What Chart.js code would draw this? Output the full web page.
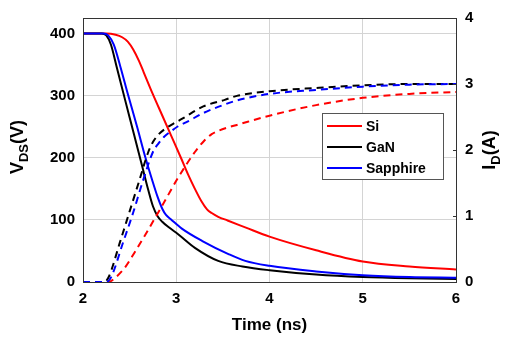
<!DOCTYPE html>
<html>
<head>
<meta charset="utf-8">
<script src="https://cdn.jsdelivr.net/npm/chart.js@4.4.0/dist/chart.umd.min.js"></script>
<style>
  body { margin: 0; background: #fff; }
  #wrap { width: 505px; height: 338px; }
</style>
</head>
<body>
<div id="wrap"><canvas id="switchChart"></canvas></div>
<script>
const seriesNames = ["Si", "GaN", "Sapphire"];
const xTicks = [2, 3, 4, 5, 6];
const vTicks = [0, 100, 200, 300, 400];

// drain-source voltage (V)
const tSiV = [2.0, 2.25, 2.35, 2.42, 2.48, 2.54, 2.60, 2.65, 2.75, 2.85, 2.95, 3.05, 3.13, 3.20, 3.27, 3.33, 3.38, 3.45, 3.55, 3.74, 4.0, 4.5, 5.0, 5.5, 6.0];
const vSi = [400, 400, 398, 394, 387, 374, 356, 338, 302, 268, 234, 200, 172, 150, 130, 117, 111, 105, 99, 88, 73, 51, 33, 25, 20];
const tGaNV = [2.0, 2.2, 2.25, 2.30, 2.36, 2.45, 2.55, 2.63, 2.70, 2.75, 2.80, 2.85, 2.92, 3.02, 3.2, 3.45, 3.71, 4.0, 4.5, 5.0, 5.5, 6.0];
const vGaN = [400, 400, 397, 382, 347, 294, 236, 189, 148, 122, 106, 97, 88, 77, 55, 34, 25, 19, 12, 8, 6, 5];
const tSapV = [2.0, 2.22, 2.27, 2.33, 2.40, 2.48, 2.58, 2.67, 2.74, 2.80, 2.85, 2.89, 2.95, 3.06, 3.28, 3.56, 3.74, 4.0, 4.5, 5.0, 5.5, 6.0];
const vSap = [400, 400, 397, 382, 347, 303, 250, 200, 165, 137, 118, 108, 100, 86, 66, 45, 34, 26, 17, 11, 8, 7];

// drain current (A)
const tSiI = [2.0, 2.27, 2.35, 2.45, 2.55, 2.67, 2.85, 3.02, 3.2, 3.3, 3.38, 3.45, 3.55, 3.65, 4.0, 4.5, 5.0, 5.5, 6.0];
const iSi = [0, 0, 0.07, 0.22, 0.44, 0.72, 1.16, 1.58, 1.97, 2.14, 2.24, 2.29, 2.34, 2.38, 2.52, 2.68, 2.79, 2.85, 2.88];
const tGaNI = [2.0, 2.22, 2.27, 2.40, 2.50, 2.60, 2.70, 2.75, 2.80, 2.87, 2.97, 3.06, 3.29, 3.52, 3.65, 4.0, 4.5, 5.0, 5.5, 6.0];
const iGaN = [0, 0, 0.06, 0.62, 1.07, 1.52, 1.97, 2.12, 2.22, 2.31, 2.40, 2.47, 2.66, 2.76, 2.82, 2.89, 2.94, 2.98, 3.0, 3.0];
const tSapI = [2.0, 2.25, 2.30, 2.43, 2.54, 2.64, 2.75, 2.81, 2.87, 2.94, 3.02, 3.12, 3.29, 3.52, 3.65, 4.0, 4.5, 5.0, 5.5, 6.0];
const iSap = [0, 0, 0.07, 0.60, 1.06, 1.52, 1.97, 2.10, 2.20, 2.28, 2.36, 2.43, 2.56, 2.69, 2.75, 2.85, 2.91, 2.96, 2.99, 3.0];

const colors = ["#ff0000", "#000000", "#0000ff"];

const toPoints = (ts, vs) => ts.map((t, i) => ({ x: t, y: vs[i] }));

function makeSet(label, ts, vs, color, axis, dashed, order) {
  return {
    label: label,
    data: toPoints(ts, vs),
    borderColor: color,
    backgroundColor: color,
    borderWidth: 2,
    borderDash: dashed ? [7, 5] : [],
    pointRadius: 0,
    cubicInterpolationMode: "monotone",
    yAxisID: axis,
    order: order,
  };
}

const fontTick = { family: "Arial, 'Liberation Sans'", size: 15, weight: "bold" };

// titles with subscripts, border box and inside legend
const decorations = {
  id: "decorations",
  afterDraw(chart) {
    const ctx = chart.ctx;
    const a = chart.chartArea;
    ctx.save();
    ctx.strokeStyle = "#333";
    ctx.lineWidth = 1;
    ctx.strokeRect(a.left + 0.5, a.top + 0.5, a.right - a.left, a.bottom - a.top);

    // small inward ticks on the right axis
    const yI = chart.scales.yI;
    [0, 1, 2, 3, 4].forEach((v) => {
      const y = Math.round(yI.getPixelForValue(v)) + 0.5;
      ctx.beginPath();
      ctx.moveTo(a.right - 3, y);
      ctx.lineTo(a.right, y);
      ctx.stroke();
    });

    ctx.fillStyle = "#000";
    ctx.font = "bold 17px Arial, 'Liberation Sans'";
    ctx.textAlign = "center";
    ctx.textBaseline = "middle";
    ctx.fillText("Time (ns)", (a.left + a.right) / 2, 325);

    function subTitle(cx, cy, main, sub, rest) {
      ctx.save();
      ctx.translate(cx, cy);
      ctx.rotate(-Math.PI / 2);
      ctx.textAlign = "left";
      ctx.textBaseline = "alphabetic";
      const big = "bold 18px Arial, 'Liberation Sans'";
      const small = "bold 13px Arial, 'Liberation Sans'";
      ctx.font = big;
      const w1 = ctx.measureText(main).width;
      const w3 = ctx.measureText(rest).width;
      ctx.font = small;
      const w2 = ctx.measureText(sub).width;
      let x = -(w1 + w2 + w3) / 2;
      ctx.font = big;
      ctx.fillText(main, x, 6);
      x += w1;
      ctx.font = small;
      ctx.fillText(sub, x, 11);
      x += w2;
      ctx.font = big;
      ctx.fillText(rest, x, 6);
      ctx.restore();
    }
    subTitle(17, 147, "V", "DS", "(V)");
    subTitle(489, 150, "I", "D", "(A)");

    // legend
    const lx = 322, ly = 113, lw = 121, lh = 66;
    ctx.fillStyle = "#fff";
    ctx.fillRect(lx, ly, lw, lh);
    ctx.strokeStyle = "#555";
    ctx.strokeRect(lx + 0.5, ly + 0.5, lw, lh);
    ctx.font = "bold 14px Arial, 'Liberation Sans'";
    ctx.textAlign = "left";
    ctx.textBaseline = "middle";
    seriesNames.forEach((name, i) => {
      const y = 126 + i * 21;
      ctx.strokeStyle = colors[i];
      ctx.lineWidth = 2;
      ctx.beginPath();
      ctx.moveTo(327, y);
      ctx.lineTo(362, y);
      ctx.stroke();
      ctx.fillStyle = "#000";
      ctx.fillText(name, 366, y + 1);
    });
    ctx.restore();
  },
};

const ctx = document.querySelector("#switchChart").getContext("2d");

const switchChart = new Chart(ctx, {
  type: "line",
  data: {
    datasets: [
      makeSet("Si", tSiV, vSi, colors[0], "yV", false, 5),
      makeSet("GaN", tGaNV, vGaN, colors[1], "yV", false, 4),
      makeSet("Sapphire", tSapV, vSap, colors[2], "yV", false, 3),
      makeSet("Si I", tSiI, iSi, colors[0], "yI", true, 2),
      makeSet("GaN I", tGaNI, iGaN, colors[1], "yI", true, 1),
      makeSet("Sapphire I", tSapI, iSap, colors[2], "yI", true, 0),
    ],
  },
  options: {
    responsive: true,
    maintainAspectRatio: false,
    animation: false,
    layout: {
      padding: { top: 10, right: 0, bottom: 0, left: 0 },
    },
    plugins: {
      legend: { display: false },
      tooltip: { enabled: false },
    },
    scales: {
      x: {
        type: "linear",
        min: 2,
        max: 6,
        afterBuildTicks: (s) => { s.ticks = xTicks.map((v) => ({ value: v })); },
        afterFit: (s) => { s.height = 56; },
        ticks: { font: fontTick, color: "#000", padding: 8, maxRotation: 0 },
        grid: { color: "#d4d4d4", drawTicks: false },
        border: { display: false },
      },
      yV: {
        position: "left",
        min: 0,
        max: 425,
        afterBuildTicks: (s) => { s.ticks = vTicks.map((v) => ({ value: v })); },
        afterFit: (s) => { s.width = 83; },
        ticks: { font: fontTick, color: "#000", padding: 8 },
        grid: { color: "#d4d4d4", drawTicks: false },
        border: { display: false },
      },
      yI: {
        position: "right",
        min: 0,
        max: 4,
        afterFit: (s) => { s.width = 49; },
        ticks: { stepSize: 1, font: fontTick, color: "#000", padding: 9 },
        grid: { drawOnChartArea: false, drawTicks: false },
        border: { display: false },
      },
    },
  },
  plugins: [decorations],
});
</script>
</body>
</html>
